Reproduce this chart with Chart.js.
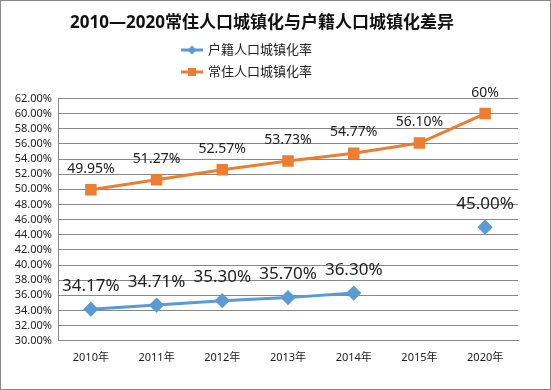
<!DOCTYPE html>
<html>
<head>
<meta charset="utf-8">
<script src="https://cdn.jsdelivr.net/npm/chart.js@4/dist/chart.umd.min.js"></script>
<style>
  html, body { margin: 0; padding: 0; background: #fff; }
  #wrap { width: 551px; height: 390px; position: relative; }
</style>
</head>
<body>
<div id="wrap"><canvas id="chart" width="551" height="390"></canvas></div>
<script>
const years = ["2010年", "2011年", "2012年", "2013年", "2014年", "2015年", "2020年"];
const huji = [34.17, 34.71, 35.30, 35.70, 36.30, null, 45.00];
const changzhu = [49.95, 51.27, 52.57, 53.73, 54.77, 56.10, 60.00];
const hujiLabels = ["34.17%", "34.71%", "35.30%", "35.70%", "36.30%", "", "45.00%"];
const changzhuLabels = ["49.95%", "51.27%", "52.57%", "53.73%", "54.77%", "56.10%", "60%"];

const FONT = "'Noto Sans', 'Noto Sans CJK SC', sans-serif";

// border, legend and point labels
const extras = {
  id: "extras",
  beforeDraw(chart) {
    const ctx = chart.ctx;
    ctx.save();
    ctx.fillStyle = "#fff";
    ctx.fillRect(0, 0, chart.width, chart.height);
    ctx.strokeStyle = "#888";
    ctx.lineWidth = 1;
    ctx.strokeRect(0.5, 0.5, chart.width - 1, chart.height - 1);
    ctx.restore();
  },
  afterDraw(chart) {
    const ctx = chart.ctx;
    ctx.save();
    // legend
    const rows = [
      { ds: chart.data.datasets[0], y: 50 },
      { ds: chart.data.datasets[1], y: 72 }
    ];
    rows.forEach(function (r) {
      const x0 = 181;
      ctx.strokeStyle = r.ds.borderColor;
      ctx.lineWidth = 3;
      ctx.beginPath();
      ctx.moveTo(x0, r.y);
      ctx.lineTo(x0 + 22, r.y);
      ctx.stroke();
      ctx.fillStyle = r.ds.borderColor;
      ctx.beginPath();
      if (r.ds.pointStyle === "rect") {
        ctx.rect(x0 + 7, r.y - 4, 8, 8);
      } else {
        ctx.moveTo(x0 + 11, r.y - 4.5);
        ctx.lineTo(x0 + 15.5, r.y);
        ctx.lineTo(x0 + 11, r.y + 4.5);
        ctx.lineTo(x0 + 6.5, r.y);
        ctx.closePath();
      }
      ctx.fill();
      ctx.fillStyle = "#222";
      ctx.font = "13px " + FONT;
      ctx.textBaseline = "middle";
      ctx.textAlign = "left";
      ctx.fillText(r.ds.label, x0 + 27, r.y);
    });
    // point labels
    const sets = [
      { idx: 0, labels: hujiLabels, size: 17, dy: 23 },
      { idx: 1, labels: changzhuLabels, size: 14, dy: 21 }
    ];
    sets.forEach(function (s) {
      const meta = chart.getDatasetMeta(s.idx);
      ctx.font = s.size + "px " + FONT;
      ctx.fillStyle = "#222";
      ctx.textAlign = "center";
      ctx.textBaseline = "middle";
      meta.data.forEach(function (pt, i) {
        if (chart.data.datasets[s.idx].data[i] == null) return;
        ctx.fillText(s.labels[i], pt.x, pt.y - s.dy);
      });
    });
    ctx.restore();
  }
};

new Chart(document.getElementById("chart"), {
  type: "line",
  data: {
    labels: years,
    datasets: [
      {
        label: "户籍人口城镇化率",
        data: huji,
        borderColor: "#5B9BD5",
        backgroundColor: "#5B9BD5",
        borderWidth: 3,
        pointStyle: "rectRot",
        pointRadius: 5.5,
        pointHoverRadius: 5.5,
        spanGaps: false,
        tension: 0
      },
      {
        label: "常住人口城镇化率",
        data: changzhu,
        borderColor: "#ED7D31",
        backgroundColor: "#ED7D31",
        borderWidth: 3,
        pointStyle: "rect",
        pointRadius: 6,
        pointHoverRadius: 6,
        tension: 0
      }
    ]
  },
  options: {
    responsive: false,
    animation: false,
    layout: { padding: { left: 6, right: 33, top: 0, bottom: 16 } },
    plugins: {
      legend: { display: false },
      tooltip: { enabled: false },
      title: {
        display: true,
        text: "2010—2020常住人口城镇化与户籍人口城镇化差异",
        color: "#111",
        font: { family: FONT, size: 17, weight: "bold" },
        padding: { top: 13, bottom: 65 }
      }
    },
    scales: {
      x: {
        offset: true,
        grid: { display: false, drawTicks: false },
        border: { display: true, color: "#888" },
        ticks: { color: "#222", font: { family: FONT, size: 11 }, padding: 10 }
      },
      y: {
        min: 30,
        max: 62,
        afterFit: function (scale) { scale.width = 52; },
        grid: { color: "#888", drawTicks: false },
        border: { display: true, color: "#888" },
        ticks: {
          stepSize: 2,
          autoSkip: false,
          padding: 6,
          color: "#222",
          font: { family: FONT, size: 11 },
          callback: function (v) { return v.toFixed(2) + "%"; }
        }
      }
    }
  },
  plugins: [extras]
});
</script>
</body>
</html>
